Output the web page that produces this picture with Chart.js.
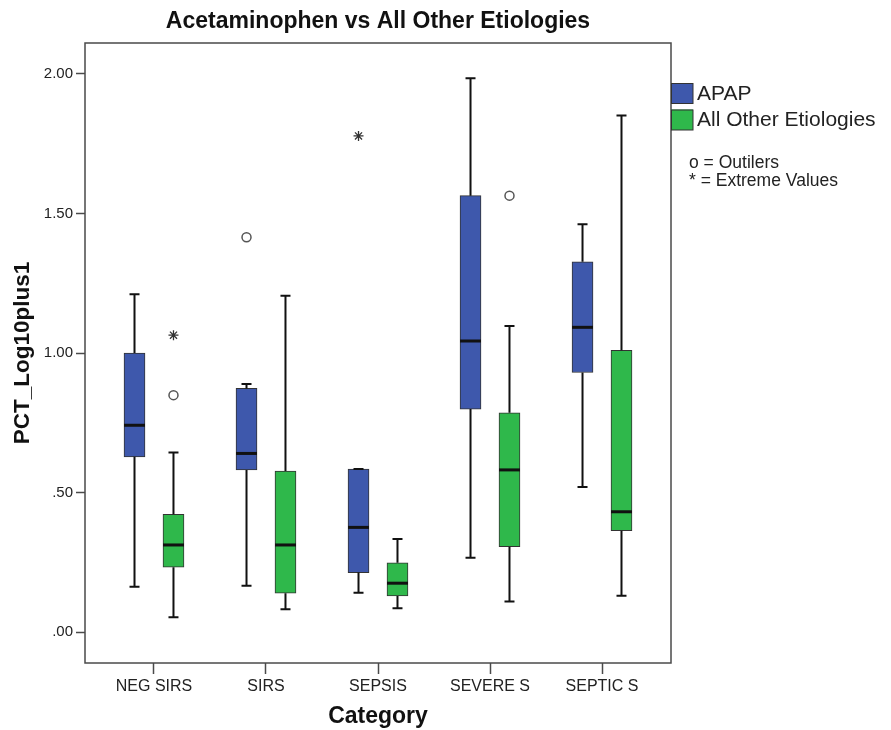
<!DOCTYPE html>
<html>
<head>
<meta charset="utf-8">
<script src="https://cdn.jsdelivr.net/npm/chart.js@4.4.1/dist/chart.umd.min.js"></script>
<style>
  html,body{margin:0;padding:0;background:#fff}
  #wrap{width:891px;height:730px}
</style>
</head>
<body>
<div id="wrap"><canvas id="chart" width="891" height="730"></canvas></div>
<script>
// Data
const categories=['NEG SIRS','SIRS','SEPSIS','SEVERE S','SEPTIC S'];
const seriesNames=['APAP','All Other Etiologies'];

const apapMin=[0.162,0.166,0.141,0.266,0.520];
const apapQ1 =[0.628,0.581,0.213,0.799,0.930];
const apapMed=[0.741,0.640,0.375,1.043,1.092];
const apapQ3 =[1.000,0.873,0.584,1.564,1.327];
const apapMax=[1.211,0.889,0.584,1.985,1.461];

const otherMin=[0.053,0.082,0.085,0.109,0.130];
const otherQ1 =[0.232,0.139,0.129,0.306,0.363];
const otherMed=[0.312,0.312,0.175,0.581,0.431];
const otherQ3 =[0.422,0.577,0.248,0.786,1.010];
const otherMax=[0.643,1.205,0.333,1.097,1.851];

// [category index, value]
const apapOutliers=[[1,1.415]];
const otherOutliers=[[0,0.849],[3,1.564]];
const apapExtremes=[[2,1.778]];
const otherExtremes=[[0,1.064]];

const yTickValues=[0,0.5,1,1.5,2];
const yTickLabels=['.00','.50','1.00','1.50','2.00'];
const keyNotes=['o = Outilers','* = Extreme Values'];

// Look
const C={blue:'#3e58ac',green:'#2fb84b',ink:'#111',frame:'#4a4a4a',text:'#222'};
const FONT='"Liberation Sans", Arial, sans-serif';
const OFF=[-0.174,0.174];           // side-by-side position inside a category
const BOX_W=21, CAP=5;

const groups=[
  {name:seriesNames[0],color:C.blue, min:apapMin, q1:apapQ1, med:apapMed, q3:apapQ3, max:apapMax, out:apapOutliers, ext:apapExtremes},
  {name:seriesNames[1],color:C.green,min:otherMin,q1:otherQ1,med:otherMed,q3:otherQ3,max:otherMax,out:otherOutliers,ext:otherExtremes}
];

const boxSets=groups.map((g,k)=>({
  type:'bar', label:g.name, grouped:false, barThickness:BOX_W,
  backgroundColor:g.color, borderColor:'#333', borderWidth:1, borderSkipped:false,
  data:categories.map((c,i)=>({x:i+OFF[k],y:[g.q1[i],g.q3[i]]}))
}));
const outSets=groups.map((g,k)=>({
  type:'scatter', label:g.name+' outliers', pointStyle:'circle', pointRadius:4.5,
  borderColor:'#555', backgroundColor:'#fff', borderWidth:1.5,
  data:g.out.map(([i,v])=>({x:i+OFF[k],y:v}))
}));
const extSets=groups.map((g,k)=>({
  type:'scatter', label:g.name+' extremes', pointStyle:'star', pointRadius:5,
  borderColor:'#333', borderWidth:1.3,
  data:g.ext.map(([i,v])=>({x:i+OFF[k],y:v}))
}));

// whiskers, medians and the frame
const boxParts={
  id:'boxParts',
  afterDatasetsDraw(chart){
    const {ctx,scales:{x,y}}=chart;
    ctx.save();
    ctx.strokeStyle=C.ink;
    groups.forEach((g,k)=>{
      categories.forEach((c,i)=>{
        const px=x.getPixelForValue(i+OFF[k]);
        const yMin=y.getPixelForValue(g.min[i]), yQ1=y.getPixelForValue(g.q1[i]);
        const yQ3=y.getPixelForValue(g.q3[i]), yMax=y.getPixelForValue(g.max[i]);
        ctx.lineWidth=2;
        ctx.beginPath();
        ctx.moveTo(px,yQ1);ctx.lineTo(px,yMin);
        ctx.moveTo(px,yQ3);ctx.lineTo(px,yMax);
        ctx.moveTo(px-CAP,yMin);ctx.lineTo(px+CAP,yMin);
        ctx.moveTo(px-CAP,yMax);ctx.lineTo(px+CAP,yMax);
        ctx.stroke();
        const yMed=y.getPixelForValue(g.med[i]);
        ctx.lineWidth=3;
        ctx.beginPath();
        ctx.moveTo(px-BOX_W/2,yMed);ctx.lineTo(px+BOX_W/2,yMed);
        ctx.stroke();
      });
    });
    const a=chart.chartArea;
    ctx.strokeStyle=C.frame;ctx.lineWidth=1.5;
    ctx.strokeRect(a.left,a.top,a.right-a.left,a.bottom-a.top);
    ctx.restore();
  }
};

// key on the right side
const sideKey={
  id:'sideKey',
  afterDraw(chart){
    const {ctx,chartArea:a}=chart;
    ctx.save();
    ctx.textBaseline='middle';ctx.textAlign='left';
    groups.forEach((g,k)=>{
      const top=a.top+40+k*26.5;
      ctx.fillStyle=g.color;ctx.fillRect(a.right,top,22,20.5);
      ctx.strokeStyle='#333';ctx.lineWidth=1;ctx.strokeRect(a.right+0.5,top+0.5,21.5,20);
      ctx.fillStyle=C.text;ctx.font='21px '+FONT;
      ctx.fillText(g.name,a.right+26,top+11);
    });
    ctx.font='17.5px '+FONT;
    keyNotes.forEach((t,k)=>ctx.fillText(t,a.right+18,a.top+120+k*18));
    ctx.restore();
  }
};

new Chart(document.getElementById('chart'),{
  type:'bar',
  data:{datasets:[...boxSets,...outSets,...extSets]},
  options:{
    responsive:false,animation:false,
    layout:{padding:{left:0,right:220,top:0,bottom:0}},
    plugins:{
      legend:{display:false},tooltip:{enabled:false},
      title:{display:true,fullSize:false,text:'Acetaminophen vs All Other Etiologies',color:C.ink,
        font:{family:FONT,size:23,weight:'bold'},padding:{top:8,bottom:7.4}}
    },
    scales:{
      x:{type:'linear',min:-0.616,max:4.616,offset:false,
        afterBuildTicks:s=>{s.ticks=categories.map((c,i)=>({value:i}));},
        afterFit:s=>{s.height=67;},
        ticks:{callback:(v,i)=>categories[i],autoSkip:false,maxRotation:0,padding:3,color:C.text,font:{family:FONT,size:16}},
        grid:{drawOnChartArea:false,drawTicks:true,tickLength:11,tickColor:C.frame,tickWidth:1.5,offset:false},
        border:{display:false},
        title:{display:true,text:'Category',color:C.ink,font:{family:FONT,size:23,weight:'bold'},padding:{top:0,bottom:0}}
      },
      y:{min:-0.111,max:2.111,
        afterBuildTicks:s=>{s.ticks=yTickValues.map(v=>({value:v}));},
        afterFit:s=>{s.width=85;},
        ticks:{callback:(v,i)=>yTickLabels[i],padding:3,color:C.text,font:{family:FONT,size:15}},
        grid:{drawOnChartArea:false,drawTicks:true,tickLength:9,tickColor:C.frame,tickWidth:1.5},
        border:{display:false},
        title:{display:true,text:'PCT_Log10plus1',color:C.ink,font:{family:FONT,size:22.5,weight:'bold'},padding:{top:9,bottom:0}}
      }
    }
  },
  plugins:[boxParts,sideKey]
});
</script>
</body>
</html>
